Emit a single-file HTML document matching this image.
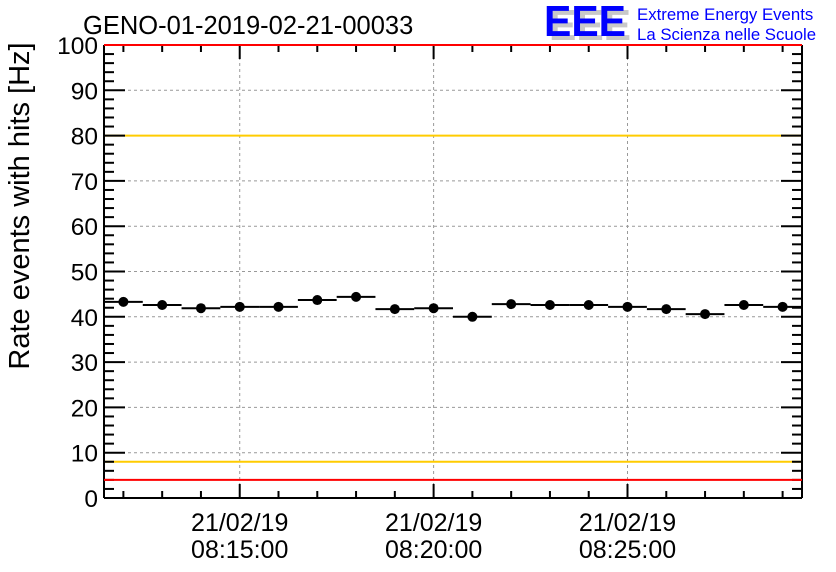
<!DOCTYPE html>
<html><head><meta charset="utf-8"><style>
body{margin:0;background:#fff;}
svg{display:block;font-family:"Liberation Sans",sans-serif;}
</style></head><body>
<svg id="chart" width="836" height="572" viewBox="0 0 836 572">
<rect width="836" height="572" fill="#fff"/>
<text x="83" y="34" font-size="25.5" fill="#000">GENO-01-2019-02-21-00033</text>
<g>
<text x="549" y="40" font-size="44" font-weight="bold" fill="#c8c8c8" textLength="82" lengthAdjust="spacingAndGlyphs">EEE</text>
<text x="544" y="36" font-size="44" font-weight="bold" fill="#0000ff" textLength="82" lengthAdjust="spacingAndGlyphs">EEE</text>
<text x="637" y="20" font-size="16.8" fill="#0000ff">Extreme Energy Events</text>
<text x="637" y="40" font-size="16.8" fill="#0000ff">La Scienza nelle Scuole</text>
</g>
<g id="grid"></g>
<g id="axes"></g>
<g id="marks"></g>
<text transform="translate(29,206) rotate(-90)" text-anchor="middle" font-size="29" fill="#000">Rate events with hits [Hz]</text>
</svg>
<script>
const values=[43.3,42.6,41.9,42.2,42.2,43.7,44.4,41.7,41.9,40.0,42.8,42.6,42.6,42.2,41.7,40.6,42.6,42.2];
const yTicks=[0,10,20,30,40,50,60,70,80,90,100];
const xMajorBins=[3,8,13];
const xMajorLabels=[["21/02/19","08:15:00"],["21/02/19","08:20:00"],["21/02/19","08:25:00"]];
const redLimits=[4,100];
const yellowLimits=[8,80];

const NS="http://www.w3.org/2000/svg";
const L=104,R=802,T=45,B=498,nb=values.length;
const X=b=>L+(R-L)*b/nb;
const Y=v=>B-(B-T)*v/100;
function mk(tag,a,parent){const e=document.createElementNS(NS,tag);for(const k in a)e.setAttribute(k,a[k]);document.getElementById(parent).appendChild(e);return e;}

yTicks.forEach(v=>{if(v>0&&v<100){const e=mk('line',{x1:L,x2:R,y1:Y(v),y2:Y(v),stroke:'#999','stroke-dasharray':'3,3','stroke-width':1},'grid');

}});
xMajorBins.forEach(b=>{const e=mk('line',{x1:X(b+0.5),x2:X(b+0.5),y1:T,y2:B,stroke:'#999','stroke-dasharray':'3,3','stroke-width':1},'grid');

});

yellowLimits.forEach(v=>{const e=mk('line',{x1:L,x2:R,y1:Y(v),y2:Y(v),stroke:'#ffcc00','stroke-width':2},'grid');

});

[[L,T,L,B],[R,T,R,B],[L,B,R,B]].forEach(c=>{const e=mk('line',{x1:c[0],y1:c[1],x2:c[2],y2:c[3],stroke:'#000','stroke-width':2},'axes');

});
for(let v=0;v<=100;v+=2){const maj=v%10===0,len=maj?21:10;
const a=mk('line',{x1:L,x2:L+len,y1:Y(v),y2:Y(v),stroke:'#000','stroke-width':2},'axes');


const b=mk('line',{x1:R,x2:R-len,y1:Y(v),y2:Y(v),stroke:'#000','stroke-width':2},'axes');

}
yTicks.forEach(v=>{const t=mk('text',{x:L-6,y:Y(v)+9,'text-anchor':'end','font-size':24.5,fill:'#000'},'axes');t.textContent=v;

});
for(let b=0;b<nb;b++){const maj=xMajorBins.includes(b),len=maj?14:7,x=X(b+0.5);
const a=mk('line',{x1:x,x2:x,y1:B,y2:B-len,stroke:'#000','stroke-width':2},'axes');


const c=mk('line',{x1:x,x2:x,y1:T,y2:T+len,stroke:'#000','stroke-width':2},'axes');

}
xMajorBins.forEach((b,i)=>{xMajorLabels[i].forEach((s,j)=>{const t=mk('text',{x:X(b+0.5),y:531+j*27,'text-anchor':'middle','font-size':25,fill:'#000'},'axes');t.textContent=s;

});});

redLimits.forEach(v=>{const e=mk('line',{x1:L,x2:R,y1:Y(v),y2:Y(v),stroke:'#ff0000','stroke-width':2},'axes');

});

values.forEach((v,i)=>{const h=mk('line',{x1:X(i),x2:X(i+1),y1:Y(v),y2:Y(v),stroke:'#000','stroke-width':2},'marks');


const c=mk('circle',{cx:X(i+0.5),cy:Y(v),r:5,fill:'#000'},'marks');

});
</script>
</body></html>
